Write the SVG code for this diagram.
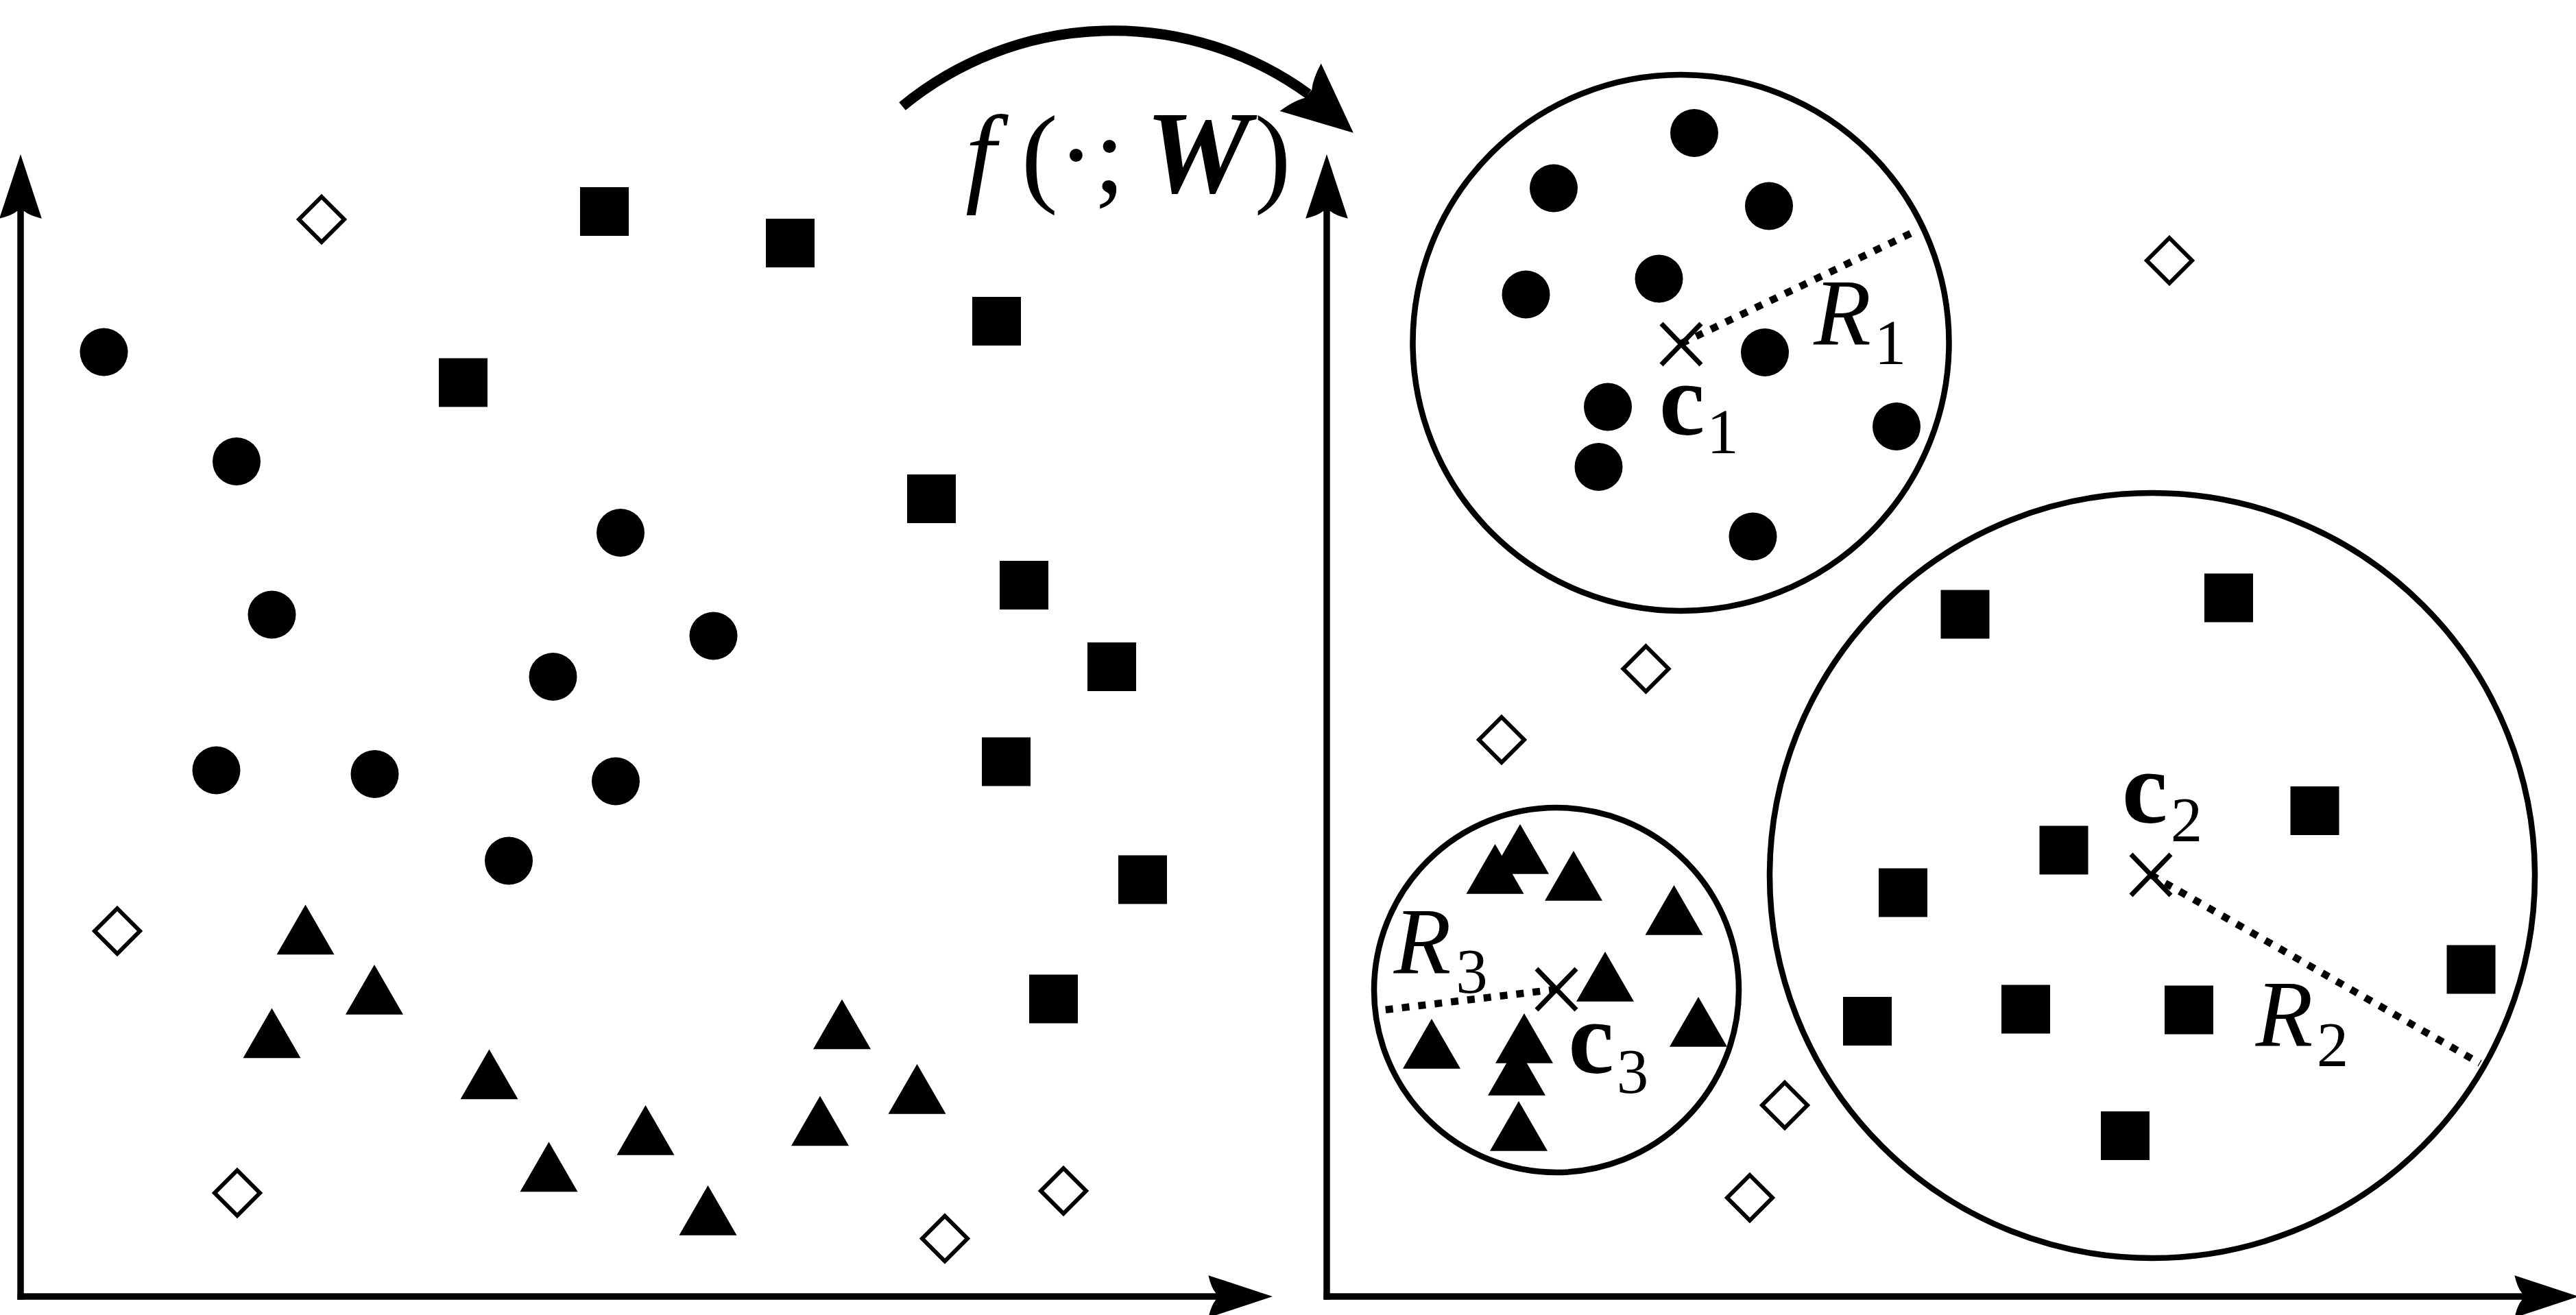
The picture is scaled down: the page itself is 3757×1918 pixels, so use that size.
<svg xmlns="http://www.w3.org/2000/svg" width="3757" height="1918" viewBox="0 0 3757 1918">
<style>
.ax{stroke:#000;stroke-width:9.5;fill:none}
.fill{fill:#000}
.hollow{fill:#fff;stroke:#000;stroke-width:6}
.ring{fill:none;stroke:#000;stroke-width:8.5}
.dots{fill:none;stroke:#000;stroke-width:10.5;stroke-dasharray:11 13}
.cross{fill:none;stroke:#000;stroke-width:7}
.t{font-family:"Liberation Serif","Times New Roman",serif;fill:#000;text-anchor:middle}
.s{font-family:"Liberation Serif","Times New Roman",serif;fill:#000}
.it{font-style:italic}
.bd{font-weight:bold}
</style>
<defs>
<marker id="axHead" markerUnits="userSpaceOnUse" orient="auto" refX="0" refY="0" markerWidth="100" markerHeight="70" viewBox="-12 -32 94 64" overflow="visible">
<path d="M78,0 L-10,-29 Q-6,-12 0,-5 L0,5 Q-6,12 -10,29 Z" fill="#000"/>
</marker>
<marker id="fHead" markerUnits="userSpaceOnUse" orient="40.8" refX="0" refY="0" markerWidth="120" markerHeight="100" viewBox="-18 -50 110 100" overflow="visible">
<path d="M87,0 L-15,-46 Q-9,-20 0,-8 L0,8 Q-9,20 -15,46 Z" fill="#000"/>
</marker>
<circle id="dot" r="35" class="fill"/>
<rect id="sq" x="-35.5" y="-35.5" width="71" height="71" class="fill"/>
<path id="tri" d="M0,0 L42,72.7 L-42,72.7 Z" class="fill"/>
<path id="dia" d="M0,-33 L33,0 L0,33 L-33,0 Z" class="hollow"/>
<path id="cr" d="M-29,-30 L29,30 M-29,30 L29,-30" class="cross"/>
</defs>
<rect width="3757" height="1918" fill="#fff"/>

<g id="connectors">
<line id="left-y-axis" class="ax" x1="30" y1="1895.5" x2="30" y2="308" marker-end="url(#axHead)"/>
<line id="left-x-axis" class="ax" x1="25.5" y1="1891" x2="1773" y2="1891" marker-end="url(#axHead)"/>
<line id="right-y-axis" class="ax" x1="1935" y1="1895.5" x2="1935" y2="308" marker-end="url(#axHead)"/>
<line id="right-x-axis" class="ax" x1="1930.5" y1="1891" x2="3678" y2="1891" marker-end="url(#axHead)"/>
<path id="map-arrow" d="M1316,155 A484.5,484.5 0 0 1 1908,137" fill="none" stroke="#000" stroke-width="15" marker-end="url(#fHead)"/>
<line id="r1-line" class="dots" x1="2452" y1="501" x2="2798" y2="335"/>
<line id="r2-line" class="dots" x1="3137" y1="1276" x2="3617" y2="1551"/>
<line id="r3-line" class="dots" x1="2270" y1="1443" x2="2010" y2="1474"/>
</g>

<g id="map-label">
<text class="s" x="1408" y="280" font-size="160"><tspan class="it">f</tspan><tspan dx="37">(</tspan><tspan>·</tspan><tspan>;</tspan><tspan class="it bd" font-size="172" dx="30">W</tspan><tspan dx="6">)</tspan></text>
</g>

<g id="left-circles">
<use id="lc1" href="#dot" x="151.5" y="513.5"/>
<use id="lc2" href="#dot" x="345" y="673"/>
<use id="lc3" href="#dot" x="905" y="777"/>
<use id="lc4" href="#dot" x="396.5" y="896.5"/>
<use id="lc5" href="#dot" x="1040.5" y="927.5"/>
<use id="lc6" href="#dot" x="806.5" y="987"/>
<use id="lc7" href="#dot" x="315.5" y="1123.5"/>
<use id="lc8" href="#dot" x="546.5" y="1129"/>
<use id="lc9" href="#dot" x="898" y="1139.5"/>
<use id="lc10" href="#dot" x="742" y="1255.5"/>
</g>

<g id="left-squares">
<use id="ls1" href="#sq" x="881.5" y="308.5"/>
<use id="ls2" href="#sq" x="1152.5" y="354.5"/>
<use id="ls3" href="#sq" x="675.5" y="558"/>
<use id="ls4" href="#sq" x="1453.5" y="468.5"/>
<use id="ls5" href="#sq" x="1358.5" y="727.5"/>
<use id="ls6" href="#sq" x="1493.5" y="853.5"/>
<use id="ls7" href="#sq" x="1621.5" y="972.5"/>
<use id="ls8" href="#sq" x="1467.5" y="1111"/>
<use id="ls9" href="#sq" x="1666.5" y="1283"/>
<use id="ls10" href="#sq" x="1536.5" y="1457"/>
</g>

<g id="left-triangles">
<use id="lt1" href="#tri" x="445.5" y="1319.5"/>
<use id="lt2" href="#tri" x="546" y="1407"/>
<use id="lt3" href="#tri" x="396.5" y="1470.5"/>
<use id="lt4" href="#tri" x="713.5" y="1530.5"/>
<use id="lt5" href="#tri" x="800.5" y="1665.5"/>
<use id="lt6" href="#tri" x="1228" y="1457.5"/>
<use id="lt7" href="#tri" x="1337.5" y="1552"/>
<use id="lt8" href="#tri" x="1196" y="1598.5"/>
<use id="lt9" href="#tri" x="941.5" y="1612"/>
<use id="lt10" href="#tri" x="1032.5" y="1729"/>
</g>

<g id="left-diamonds">
<use id="ld1" href="#dia" x="469" y="320"/>
<use id="ld2" href="#dia" x="171" y="1358"/>
<use id="ld3" href="#dia" x="346" y="1740"/>
<use id="ld4" href="#dia" x="1378" y="1806.5"/>
<use id="ld5" href="#dia" x="1551" y="1737"/>
</g>

<g id="cluster-1">
<circle id="c1-boundary" class="ring" cx="2451.5" cy="500" r="391"/>
<use id="rc1" href="#dot" x="2266" y="274.5"/>
<use id="rc2" href="#dot" x="2471" y="194"/>
<use id="rc3" href="#dot" x="2580" y="300.5"/>
<use id="rc4" href="#dot" x="2419.5" y="406.5"/>
<use id="rc5" href="#dot" x="2225.5" y="429.5"/>
<use id="rc6" href="#dot" x="2574" y="514"/>
<use id="rc7" href="#dot" x="2345" y="593.5"/>
<use id="rc8" href="#dot" x="2766" y="622"/>
<use id="rc9" href="#dot" x="2331.5" y="681"/>
<use id="rc10" href="#dot" x="2556.5" y="782.5"/>
<use id="c1-center" href="#cr" x="2452" y="502"/>
<text class="t bd" x="2453" y="634" font-size="150">c</text>
<text class="t" x="2512.5" y="661" font-size="93">1</text>
<text class="t it" x="2687" y="502.5" font-size="137">R</text>
<text class="t" x="2757" y="531" font-size="93">1</text>
</g>

<g id="cluster-2">
<circle id="c2-boundary" class="ring" cx="3139" cy="1277" r="558"/>
<use id="rs1" href="#sq" x="2866" y="896"/>
<use id="rs2" href="#sq" x="3250.5" y="872"/>
<use id="rs3" href="#sq" x="3376" y="1182.5"/>
<use id="rs4" href="#sq" x="3010" y="1240"/>
<use id="rs5" href="#sq" x="2775.5" y="1302"/>
<use id="rs6" href="#sq" x="3604" y="1414"/>
<use id="rs7" href="#sq" x="2723.5" y="1489.5"/>
<use id="rs8" href="#sq" x="2954.5" y="1472"/>
<use id="rs9" href="#sq" x="3192.5" y="1473"/>
<use id="rs10" href="#sq" x="3099.5" y="1656.5"/>
<use id="c2-center" href="#cr" x="3137" y="1276"/>
<text class="t bd" x="3128" y="1200" font-size="150">c</text>
<text class="t" x="3189" y="1227" font-size="93">2</text>
<text class="t it" x="3331.5" y="1526" font-size="137">R</text>
<text class="t" x="3402" y="1555" font-size="93">2</text>
</g>

<g id="cluster-3">
<circle id="c3-boundary" class="ring" cx="2270" cy="1444" r="266"/>
<use id="rt1" href="#tri" x="2180.5" y="1231"/>
<use id="rt2" href="#tri" x="2217" y="1202"/>
<use id="rt3" href="#tri" x="2295" y="1241"/>
<use id="rt4" href="#tri" x="2441.5" y="1291"/>
<use id="rt5" href="#tri" x="2341" y="1388"/>
<use id="rt6" href="#tri" x="2477" y="1454"/>
<use id="rt7" href="#tri" x="2088" y="1486"/>
<use id="rt8" href="#tri" x="2223" y="1478"/>
<use id="rt9" href="#tri" x="2212" y="1525"/>
<use id="rt10" href="#tri" x="2215" y="1606"/>
<use id="c3-center" href="#cr" x="2270" y="1443"/>
<text class="t bd" x="2320.5" y="1565" font-size="150">c</text>
<text class="t" x="2381" y="1594" font-size="93">3</text>
<text class="t it" x="2074.5" y="1420" font-size="137">R</text>
<text class="t" x="2146.5" y="1448" font-size="93">3</text>
</g>

<g id="right-diamonds">
<use id="rd1" href="#dia" x="3164" y="380"/>
<use id="rd2" href="#dia" x="2400.5" y="975.5"/>
<use id="rd3" href="#dia" x="2190" y="1079"/>
<use id="rd4" href="#dia" x="2603" y="1612"/>
<use id="rd5" href="#dia" x="2552" y="1747"/>
</g>
</svg>
